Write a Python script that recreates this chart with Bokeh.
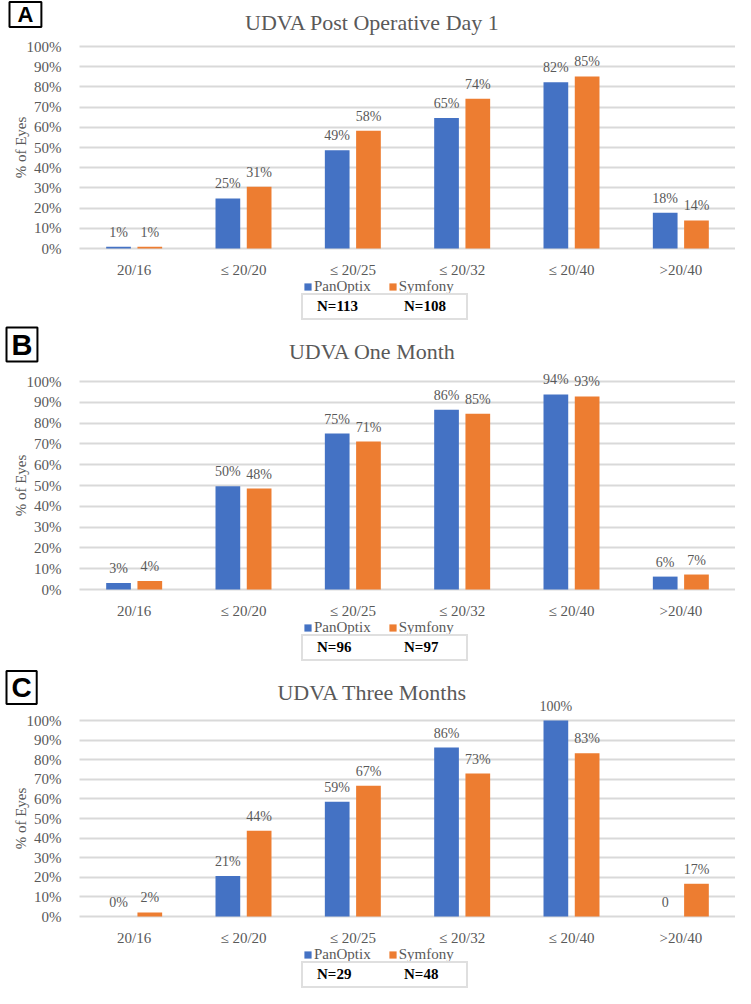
import math
from bokeh.plotting import figure
from bokeh.models import (ColumnDataSource, Range1d, FixedTicker, Grid,
                          PrintfTickFormatter, Legend, LegendItem, LabelSet, Label)
from bokeh.transform import dodge
from bokeh.layouts import column
from bokeh.embed import file_html
from bokeh.resources import INLINE

# ---------------- data ----------------
categories = ["20/16", "\u2264 20/20", "\u2264 20/25", "\u2264 20/32", "\u2264 20/40", ">20/40"]
series_names = ["PanOptix", "Symfony"]
panel_letters = ["A", "B", "C"]
panel_titles = ["UDVA Post Operative Day 1", "UDVA One Month", "UDVA Three Months"]

panoptix_day1 = [0.9, 24.8, 48.7, 64.6, 82.3, 17.7]
symfony_day1 = [0.9, 30.6, 58.3, 74.1, 85.2, 13.9]
panoptix_day1_labels = ["1%", "25%", "49%", "65%", "82%", "18%"]
symfony_day1_labels = ["1%", "31%", "58%", "74%", "85%", "14%"]

panoptix_month1 = [3.1, 49.6, 75.0, 86.4, 93.8, 6.2]
symfony_month1 = [4.1, 48.5, 71.1, 84.5, 92.8, 7.2]
panoptix_month1_labels = ["3%", "50%", "75%", "86%", "94%", "6%"]
symfony_month1_labels = ["4%", "48%", "71%", "85%", "93%", "7%"]

panoptix_month3 = [0.0, 20.7, 58.6, 86.2, 100.0, 0.0]
symfony_month3 = [2.1, 43.8, 66.7, 72.9, 83.3, 16.7]
panoptix_month3_labels = ["0%", "21%", "59%", "86%", "100%", "0"]
symfony_month3_labels = ["2%", "44%", "67%", "73%", "83%", "17%"]

n_panoptix = [113, 96, 29]
n_symfony = [108, 97, 48]

y_ticks = [0, 10, 20, 30, 40, 50, 60, 70, 80, 90, 100]
y_axis_title = "% of Eyes"

# ---------------- style ----------------
BLUE = "#4472C4"
ORANGE = "#ED7D31"
TXT = "#595959"
GRID = "#D9D9D9"
SERIF = "Liberation Serif"
SANS = "Liberation Sans"

FIG_W = 735
LEFT = 79                      # px left of the first category (room for y labels)
N_CAT = len(categories)
PER_FACTOR = (FIG_W - LEFT) / N_CAT
LEFT_UNITS = LEFT / PER_FACTOR
DODGE = 0.143
BAR_W = 0.226

cat_pos = [i + 0.5 for i in range(N_CAT)]


def sx_to_data(px):
    return px / PER_FACTOR - LEFT_UNITS


def letter_label(text, x, y, size, pad_x, pad_y):
    kw = dict(x=x, y=y, text=text, text_align="left", text_baseline="middle",
              text_font=SANS, text_font_size=size, text_font_style="bold",
              text_color="black", border_line_color="black", border_line_width=2,
              background_fill_color="white")
    try:
        return Label(padding=dict(left=pad_x, right=pad_x, top=pad_y, bottom=pad_y), **kw)
    except Exception:
        return Label(padding=pad_x, **kw)


def make_panel(i, pan, sym, pan_lab, sym_lab, top, frame_h, bottom,
               title_gap, letter_gap, letter_size, pad_x, pad_y, leg_y, n_y):
    height = top + frame_h + bottom
    px_per = frame_h / 100.0
    y_min = -bottom / px_per
    y_max = 100 + top / px_per
    p = figure(x_range=Range1d(-LEFT_UNITS, N_CAT), y_range=Range1d(y_min, y_max),
               width=FIG_W, height=height, toolbar_location=None,
               output_backend="svg", min_border=0)
    p.title.visible = False
    p.outline_line_color = None
    p.background_fill_color = "white"
    p.border_fill_color = "white"

    src = ColumnDataSource(dict(x=cat_pos, cat=categories, pan=pan, sym=sym,
                                pan_lab=pan_lab, sym_lab=sym_lab))
    r1 = p.vbar(x=dodge("x", -DODGE), top="pan", width=BAR_W,
                source=src, fill_color=BLUE, line_color=None)
    r2 = p.vbar(x=dodge("x", DODGE), top="sym", width=BAR_W,
                source=src, fill_color=ORANGE, line_color=None)

    for field, lab, off in (("pan", "pan_lab", -DODGE), ("sym", "sym_lab", DODGE)):
        ls = LabelSet(x=dodge("x", off), y=field, text=lab, source=src,
                      y_offset=10, text_align="center", text_baseline="alphabetic",
                      text_font=SERIF, text_font_size="14px", text_color=TXT)
        p.add_layout(ls)

    # grid lines only across the category area
    p.xgrid.grid_line_color = None
    p.ygrid.grid_line_color = None
    yg = Grid(dimension=1, ticker=FixedTicker(ticks=y_ticks),
              grid_line_color=GRID, grid_line_width=2, level="underlay")
    if "cross_bounds" in Grid.properties():
        yg.cross_bounds = (0, N_CAT)
        p.add_layout(yg)
    else:
        p.segment(x0=0, x1=N_CAT, y0=y_ticks, y1=y_ticks, line_color=GRID,
                  line_width=2, level="underlay")

    # y axis drawn at the left edge of the category area
    p.yaxis.fixed_location = 0
    p.yaxis.ticker = FixedTicker(ticks=y_ticks)
    p.yaxis.formatter = PrintfTickFormatter(format="%d%%")
    p.yaxis.axis_line_color = None
    p.yaxis.major_tick_line_color = None
    p.yaxis.minor_tick_line_color = None
    p.yaxis.major_label_standoff = 12
    p.yaxis.major_label_text_font = SERIF
    p.yaxis.major_label_text_font_size = "15px"
    p.yaxis.major_label_text_color = TXT

    # x axis drawn along the 0% line
    p.xaxis.fixed_location = 0
    p.xaxis.ticker = FixedTicker(ticks=cat_pos)
    p.xaxis.major_label_overrides = {x: c for x, c in zip(cat_pos, categories)}
    p.xaxis.axis_line_color = None
    p.xaxis.major_tick_line_color = None
    p.xaxis.minor_tick_line_color = None
    p.xaxis.major_label_standoff = 7
    p.xaxis.major_label_text_font = SERIF
    p.xaxis.major_label_text_font_size = "15px"
    p.xaxis.major_label_text_color = TXT

    # y axis title
    p.add_layout(Label(x=sx_to_data(20), y=50, text=y_axis_title, angle=math.pi / 2,
                       text_align="center", text_baseline="middle", text_font=SERIF,
                       text_font_size="15px", text_color=TXT))

    # series legend
    leg = Legend(items=[LegendItem(label=series_names[0], renderers=[r1]),
                        LegendItem(label=series_names[1], renderers=[r2])],
                 orientation="horizontal", location=(303, leg_y), margin=0, padding=0,
                 spacing=17, glyph_width=9, glyph_height=9, label_standoff=2,
                 label_height=14, label_text_font=SERIF, label_text_font_size="15px",
                 label_text_color=TXT, border_line_color=None, background_fill_alpha=0)
    p.add_layout(leg, "center")

    # N box
    e1 = p.scatter(x=[], y=[], alpha=0)
    e2 = p.scatter(x=[], y=[], alpha=0)
    nleg = Legend(items=[LegendItem(label="N=%d" % n_panoptix[i], renderers=[e1]),
                         LegendItem(label="N=%d" % n_symfony[i], renderers=[e2])],
                  orientation="horizontal", location=(301, n_y), margin=0, padding=3,
                  spacing=17, glyph_width=0, glyph_height=14, label_standoff=11,
                  label_width=59, label_height=14, label_text_font=SERIF,
                  label_text_font_size="15px", label_text_font_style="bold",
                  label_text_color="black", border_line_color="#BFBFBF",
                  border_line_width=2, background_fill_color="white")
    p.add_layout(nleg, "center")

    # title and panel letter
    p.add_layout(Label(x=sx_to_data(372), y=100 + title_gap / px_per, text=panel_titles[i],
                       text_align="center", text_baseline="alphabetic", text_font=SERIF,
                       text_font_size="22px", text_color=TXT))
    p.add_layout(letter_label(panel_letters[i], sx_to_data(pad_x + 1),
                              100 + letter_gap / px_per, letter_size, pad_x, pad_y))
    return p


pA = make_panel(0, panoptix_day1, symfony_day1, panoptix_day1_labels, symfony_day1_labels,
                top=46, frame_h=202, bottom=75, title_gap=24, letter_gap=32,
                letter_size="22px", pad_x=8, pad_y=0, leg_y=28, n_y=3)
pB = make_panel(1, panoptix_month1, symfony_month1, panoptix_month1_labels, symfony_month1_labels,
                top=58, frame_h=208, bottom=75, title_gap=30, letter_gap=37,
                letter_size="29px", pad_x=5, pad_y=1, leg_y=28, n_y=3)
pC = make_panel(2, panoptix_month3, symfony_month3, panoptix_month3_labels, symfony_month3_labels,
                top=56, frame_h=196, bottom=72, title_gap=28, letter_gap=33,
                letter_size="28px", pad_x=5, pad_y=1, leg_y=25, n_y=0)

layout = column(pA, pB, pC)
open("out.html", "w").write(file_html(layout, INLINE))
